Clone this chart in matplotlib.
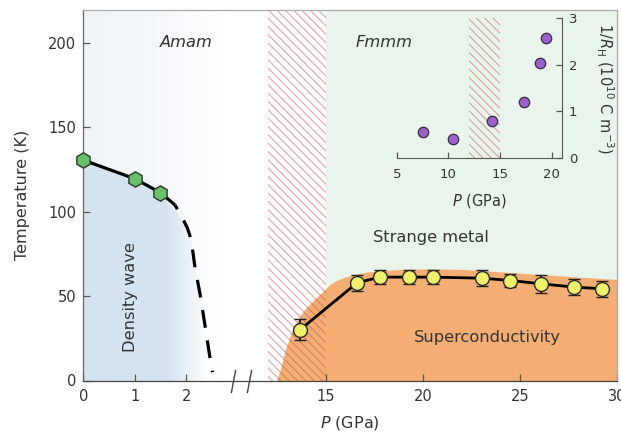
import numpy as np
import matplotlib
matplotlib.use("Agg")
import matplotlib.pyplot as plt
from matplotlib.colors import to_rgb

# ---------------- data ----------------
# density-wave transition (green hexagons)
p_dw = [0.0, 1.0, 1.5]
t_dw = [130.5, 119.5, 111.2]
# solid part of the density-wave line
p_dw_solid = [0.0, 1.0, 1.5, 1.78]
t_dw_solid = [130.5, 119.5, 111.2, 104.0]
# dashed extrapolation of the density-wave line
p_dw_dash = [1.78, 1.93, 2.02, 2.07, 2.10, 2.13, 2.17, 2.27, 2.37, 2.45, 2.51]
t_dw_dash = [104.0, 96.0, 90.5, 86.0, 82.0, 76.0, 67.0, 51.0, 31.6, 15.8, 4.9]

# superconducting Tc (yellow circles)
p_sc = [13.68, 16.6, 17.76, 19.26, 20.51, 23.04, 24.5, 26.05, 27.77, 29.23]
t_sc = [30.2, 57.8, 61.2, 61.2, 61.2, 60.6, 59.2, 57.3, 55.3, 54.3]
t_sc_err = [6.0, 4.7, 4.0, 4.0, 4.0, 4.6, 4.0, 5.3, 4.9, 4.9]

# superconducting dome boundary (orange region)
p_sc_edge = [12.45, 12.64, 12.9, 13.25, 13.6, 13.93, 14.4, 14.8, 15.24, 15.7,
             16.25, 17.0, 17.8, 19.0, 20.4, 22.0, 23.0, 25.5, 28.1, 30.0]
t_sc_edge = [0.0, 6.0, 17.8, 29.6, 37.0, 42.5, 48.0, 52.3, 57.3, 60.0,
             62.2, 64.0, 65.1, 65.8, 66.1, 65.8, 65.1, 63.2, 61.2, 59.8]

# structural transition region (hatched)
p_transition = [12.0, 15.0]

# inset: inverse Hall coefficient
p_hall = [7.58, 10.48, 14.2, 17.32, 18.87, 19.45]
inv_rh = [0.56, 0.40, 0.80, 1.196, 2.05, 2.57]
inv_rh_err = [0.08, 0.08, 0.08, 0.08, 0.08, 0.08]

x_ticks = [0, 1, 2, 15, 20, 25, 30]
y_ticks = [0, 50, 100, 150, 200]
inset_x_ticks = [5, 10, 15, 20]
inset_y_ticks = [0, 1, 2, 3]

# ---------------- broken x scale ----------------
P_LEFT_END = 2.9
P_RIGHT_START = 11.06
K_RIGHT = 19.4 / 51.4
U15 = 242.4 / 51.4
U_R0 = U15 + (P_RIGHT_START - 15) * K_RIGHT
K_MID = (U_R0 - P_LEFT_END) / (P_RIGHT_START - P_LEFT_END)


def fwd(p):
    p = np.asarray(p, dtype=float)
    return np.where(p <= P_LEFT_END, p,
                    np.where(p >= P_RIGHT_START, U15 + (p - 15) * K_RIGHT,
                             P_LEFT_END + (p - P_LEFT_END) * K_MID))


def inv(u):
    u = np.asarray(u, dtype=float)
    return np.where(u <= P_LEFT_END, u,
                    np.where(u >= U_R0, 15 + (u - U15) / K_RIGHT,
                             P_LEFT_END + (u - P_LEFT_END) / K_MID))


# ---------------- colours ----------------
TXT = "#333333"
GREEN_BG = "#e9f5ea"
FAINT_BG = "#eff4f8"
BLUE = "#d5e3f0"
ORANGE = "#f4ad72"
HATCH = (0.74, 0.33, 0.33, 0.55)
YELLOW = "#eef06a"
HEX_GREEN = "#6abf6a"
PURPLE = "#9a62c8"

W, H = 621, 432
fig = plt.figure(figsize=(W / 100, H / 100), dpi=100)
plt.rcParams["hatch.linewidth"] = 0.75

ax = fig.add_axes([83.3 / W, 1 - 380.5 / H, 534 / W, 370.5 / H])
ax.set_xscale("function", functions=(fwd, inv))
ax.set_xlim(0, 30)
ax.set_ylim(0, 219.4)
YTOP = 219.4

# backgrounds
ax.fill_between([15, 30], 0, YTOP, color=GREEN_BG, lw=0, zorder=0)
bg_edges = np.linspace(0, 2.9, 30)
c_faint = np.array(to_rgb(FAINT_BG))
for i in range(len(bg_edges) - 1):
    f = 1 - (i / (len(bg_edges) - 2)) ** 1.5
    col = c_faint * f + np.ones(3) * (1 - f)
    ax.fill_between(bg_edges[i:i + 2], 0, YTOP, color=col, lw=0.6, ec=col, zorder=0)

# density-wave region with fading right edge
p_curve = np.array(p_dw_solid[:-1] + p_dw_dash)
t_curve = np.array(t_dw_solid[:-1] + t_dw_dash)
c_blue = np.array(to_rgb(BLUE))
edges = np.concatenate([[0.0], np.linspace(1.6, 2.42, 40)])
for i in range(len(edges) - 1):
    a, b = edges[i], edges[i + 1]
    seg_p = np.concatenate([[a], p_curve[(p_curve > a) & (p_curve < b)], [b]])
    seg_t = np.interp(seg_p, p_curve, t_curve) - (0 if i == 0 else 3.0)
    fr = 0 if i == 0 else (i - 1) / (len(edges) - 3)
    f = max(0.0, 1 - fr) ** 1.2
    bgf = 1 - ((a + b) / 2 / 2.9) ** 1.5
    bgc = c_faint * bgf + np.ones(3) * (1 - bgf)
    col = c_blue * f + bgc * (1 - f)
    ax.fill_between(seg_p, 0, seg_t, color=col, ec=col, lw=0.6, zorder=1)

# superconducting dome
ax.fill_between(p_sc_edge, 0, t_sc_edge, color=ORANGE, lw=0, zorder=1)

# hatched transition region
ax.fill_between(p_transition, 0, YTOP, facecolor="none", edgecolor=HATCH,
                hatch="\\\\\\\\", lw=0, zorder=2)

# density-wave line and points
ax.plot(p_dw_solid, t_dw_solid, color="black", lw=2.3, zorder=3,
        solid_capstyle="butt")
ax.plot(p_dw_dash, t_dw_dash, color="black", lw=2.3, zorder=3,
        ls=(4.0, (5.6, 4.0)), dash_capstyle="butt")
ax.plot(p_dw, t_dw, ls="none", marker="h", ms=11, mfc=HEX_GREEN,
        mec="#2a3a2a", mew=1.0, zorder=4, clip_on=False)

# superconducting Tc
ax.plot(p_sc, t_sc, color="black", lw=2.0, zorder=3)
ax.errorbar(p_sc, t_sc, yerr=t_sc_err, fmt="o", ms=10, mfc=YELLOW,
            mec="#2b2b2b", mew=1.0, ecolor="#222222", elinewidth=1.4,
            capsize=4.5, capthick=1.6, zorder=4)

# text labels
ax.text(2.0, 200, "Amam", style="italic", fontsize=11.7, color=TXT,
        ha="center", va="center", zorder=5)
ax.text(17.97, 200, "Fmmm", style="italic", fontsize=11.7, color=TXT,
        ha="center", va="center", zorder=5)
ax.text(20.4, 84.7, "Strange metal", fontsize=11.7, color=TXT,
        ha="center", va="center", zorder=5)
ax.text(23.3, 25.6, "Superconductivity", fontsize=11.7, color=TXT,
        ha="center", va="center", zorder=5)
ax.text(0.91, 49.5, "Density wave", fontsize=11.7, color=TXT, rotation=90,
        ha="center", va="center", zorder=5)

# axes styling
ax.set_xticks(x_ticks)
ax.set_xticklabels([str(t) for t in x_ticks])
ax.set_yticks(y_ticks)
ax.minorticks_off()
ax.tick_params(direction="in", length=5, width=0.9, color="#555555",
               labelsize=10.5, labelcolor=TXT)
ax.tick_params(axis="x", pad=6)
ax.tick_params(axis="y", pad=5)
for side, col in [("left", "#666666"), ("bottom", "#444444"),
                  ("top", "#aaaaaa"), ("right", "#aaaaaa")]:
    ax.spines[side].set_color(col)
    ax.spines[side].set_linewidth(0.9)
ax.set_xlabel(r"$P$ (GPa)", fontsize=11.5, color=TXT, labelpad=7)
ax.set_ylabel("Temperature (K)", fontsize=11.5, color=TXT, labelpad=13)

# axis-break marks
ax.plot([P_LEFT_END, P_RIGHT_START], [0, 0], ls="none",
        marker=[(-0.19, -1), (0.19, 1)], ms=16.8, mec="#444444", mew=1.0,
        clip_on=False, zorder=6)

# ---------------- inset ----------------
axi = fig.add_axes([396.7 / W, 1 - 158 / H, 165 / W, 139.7 / H])
axi.patch.set_alpha(0)
axi.set_xlim(5, 20.97)
axi.set_ylim(0, 3)
axi.fill_between(p_transition, 0, 3, facecolor="none", edgecolor=HATCH,
                 hatch="\\\\\\\\", lw=0, zorder=1)
axi.errorbar(p_hall, inv_rh, yerr=inv_rh_err, fmt="o", ms=7.5, mfc=PURPLE,
             mec="#3a2a4a", mew=0.9, ecolor="#111111", elinewidth=1.0,
             capsize=2, capthick=1.0, zorder=3)
axi.spines["left"].set_visible(False)
axi.spines["top"].set_visible(False)
axi.spines["bottom"].set_color("#555555")
axi.spines["right"].set_color("#555555")
axi.yaxis.set_ticks_position("right")
axi.yaxis.set_label_position("right")
axi.set_xticks(inset_x_ticks)
axi.set_yticks(inset_y_ticks)
axi.tick_params(direction="in", length=4, width=0.9, color="#555555",
                labelsize=9.5, labelcolor=TXT, pad=5)
axi.tick_params(axis="x", pad=7)
axi.set_xlabel(r"$P$ (GPa)", fontsize=10.5, color=TXT, labelpad=8)
axi.set_ylabel(r"1/$R_\mathregular{H}$ (10$^{10}$ C m$^{-3}$)", fontsize=10.5,
               color=TXT, rotation=270, labelpad=27)

fig.savefig("out.png", dpi=100)
